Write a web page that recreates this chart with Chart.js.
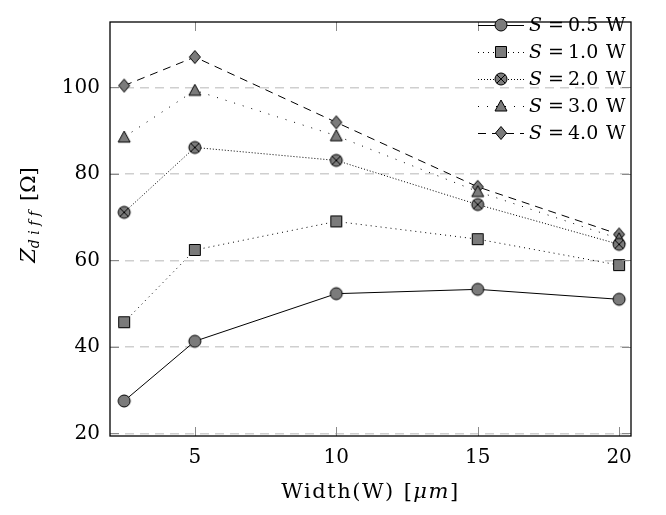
<!DOCTYPE html>
<html>
<head>
<meta charset="utf-8">
<script src="https://cdn.jsdelivr.net/npm/chart.js@4.4.0/dist/chart.umd.min.js"></script>
<style>
  html, body { margin: 0; padding: 0; background: #fff; }
</style>
</head>
<body>
<canvas id="myChart" width="666" height="515"></canvas>
<script>
// widths in um, impedance in ohm
const widths = [2.5, 5, 10, 15, 20];
const zS05 = [27.5, 41.3, 52.3, 53.3, 51.0];
const zS10 = [45.7, 62.4, 69.0, 64.9, 58.9];
const zS20 = [71.1, 86.1, 83.1, 72.9, 63.7];
const zS30 = [88.5, 99.3, 88.8, 75.9, 65.0];
const zS40 = [100.4, 107.0, 91.9, 77.0, 66.0];
const spacings = ['0.5', '1.0', '2.0', '3.0', '4.0'];
const xTicks = [5, 10, 15, 20];
const yTicks = [20, 40, 60, 80, 100];

const serif = '"DejaVu Serif", "Liberation Serif", serif';
const markFill = '#7b7b7b';

function makeMarker(kind) {
  var c = document.createElement('canvas');
  c.width = 16; c.height = 16;
  var g = c.getContext('2d');
  g.fillStyle = markFill;
  g.strokeStyle = '#000';
  g.lineWidth = 1;
  g.beginPath();
  if (kind == 'circle' || kind == 'otimes') {
    g.arc(8, 8, 6, 0, Math.PI * 2);
  } else if (kind == 'square') {
    g.rect(2.5, 2.5, 11, 11);
  } else if (kind == 'triangle') {
    g.moveTo(8, 2); g.lineTo(14, 13); g.lineTo(2, 13); g.closePath();
  } else if (kind == 'diamond') {
    g.moveTo(8, 1.5); g.lineTo(13.5, 8); g.lineTo(8, 14.5); g.lineTo(2.5, 8); g.closePath();
  }
  g.fill(); g.stroke();
  if (kind == 'otimes') {
    var d = 6 / Math.SQRT2;
    g.beginPath();
    g.moveTo(8 - d, 8 - d); g.lineTo(8 + d, 8 + d);
    g.moveTo(8 + d, 8 - d); g.lineTo(8 - d, 8 + d);
    g.stroke();
  }
  return c;
}

const markers = ['circle', 'square', 'otimes', 'triangle', 'diamond'].map(makeMarker);
const dashes = [[], [1, 4], [1, 2], [1, 8], [8, 6]];
const allZ = [zS05, zS10, zS20, zS30, zS40];

var datasets = [];
for (var i = 0; i < allZ.length; i++) {
  datasets.push({
    label: 'S = ' + spacings[i] + ' W',
    data: widths.map(function (w, k) { return {x: w, y: allZ[i][k]}; }),
    borderColor: '#000',
    borderWidth: 1,
    borderDash: dashes[i],
    pointStyle: markers[i],
    pointRadius: 7,
    fill: false,
    tension: 0
  });
}

// frame, tick marks, axis titles and legend
const decor = {
  id: 'decor',
  afterDraw(chart) {
    var ctx = chart.ctx;
    var a = chart.chartArea;
    var xs = chart.scales.x, ys = chart.scales.y;
    ctx.save();
    // tick marks on all sides
    ctx.strokeStyle = '#8a8a8a';
    ctx.lineWidth = 1;
    ctx.beginPath();
    xTicks.forEach(function (t) {
      var px = Math.round(xs.getPixelForValue(t)) + 0.5;
      ctx.moveTo(px, a.bottom); ctx.lineTo(px, a.bottom - 9);
      ctx.moveTo(px, a.top); ctx.lineTo(px, a.top + 9);
    });
    yTicks.forEach(function (t) {
      var py = Math.round(ys.getPixelForValue(t)) + 0.5;
      ctx.moveTo(a.left, py); ctx.lineTo(a.left + 9, py);
      ctx.moveTo(a.right, py); ctx.lineTo(a.right - 9, py);
    });
    ctx.stroke();
    // frame
    ctx.strokeStyle = '#000';
    ctx.lineWidth = 1.3;
    ctx.strokeRect(a.left, a.top, a.right - a.left, a.bottom - a.top);

    // x title: Width(W) [um]
    ctx.fillStyle = '#000';
    ctx.textBaseline = 'alphabetic';
    ctx.letterSpacing = '1.5px';
    var p1 = 'Width(W)', p2 = '[', p3 = '\u03bcm', p4 = ']';
    ctx.font = '21px ' + serif;
    var w1 = ctx.measureText(p1).width, w2 = ctx.measureText(p2).width, w4 = ctx.measureText(p4).width;
    ctx.font = 'italic 21px ' + serif;
    var w3 = ctx.measureText(p3).width;
    var gap = 9;
    var x0 = (a.left + a.right) / 2 - (w1 + gap + w2 + w3 + w4) / 2;
    var by = 498;
    ctx.font = '21px ' + serif;
    ctx.fillText(p1, x0, by);
    ctx.fillText(p2, x0 + w1 + gap, by);
    ctx.font = 'italic 21px ' + serif;
    ctx.fillText(p3, x0 + w1 + gap + w2, by);
    ctx.font = '21px ' + serif;
    ctx.fillText(p4, x0 + w1 + gap + w2 + w3, by);
    ctx.letterSpacing = '0px';

    // y title: Z_diff [Ohm]
    ctx.save();
    ctx.translate(35, 215);
    ctx.rotate(-Math.PI / 2);
    ctx.font = 'italic 21px ' + serif;
    var wz = ctx.measureText('Z').width;
    ctx.font = 'italic 14px ' + serif;
    var sub = 'd i f f';
    var wd = ctx.measureText(sub).width;
    ctx.font = '21px ' + serif;
    var wo = ctx.measureText('[\u03a9]').width;
    var tgap = 10;
    var sx = -(wz + wd + tgap + wo) / 2;
    ctx.font = 'italic 21px ' + serif;
    ctx.fillText('Z', sx, 0);
    ctx.font = 'italic 14px ' + serif;
    ctx.fillText(sub, sx + wz, 4);
    ctx.font = '21px ' + serif;
    ctx.fillText('[\u03a9]', sx + wz + wd + tgap, 0);
    ctx.restore();

    // legend
    for (var i = 0; i < chart.data.datasets.length; i++) {
      var ly = 25 + i * 27;
      ctx.strokeStyle = '#000';
      ctx.lineWidth = 1;
      ctx.setLineDash(dashes[i]);
      ctx.beginPath();
      ctx.moveTo(478, ly + 0.5); ctx.lineTo(524, ly + 0.5);
      ctx.stroke();
      ctx.setLineDash([]);
      ctx.drawImage(markers[i], 501 - 8, ly - 8);
      var tb = ly + 6;
      ctx.font = 'italic 19px ' + serif;
      ctx.fillText('S', 529, tb);
      ctx.font = '19px ' + serif;
      ctx.fillText('=', 548, tb);
      ctx.fillText(spacings[i], 568, tb);
      ctx.fillText('W', 606, tb);
    }
    ctx.restore();
  }
};

var ctx = document.getElementById('myChart').getContext('2d');
var myChart = new Chart(ctx, {
  type: 'line',
  data: { datasets: datasets },
  options: {
    responsive: false,
    devicePixelRatio: 1,
    animation: false,
    layout: { padding: { left: 0, right: 35, top: 3, bottom: 0 } },
    plugins: { legend: { display: false }, tooltip: { enabled: false } },
    scales: {
      x: {
        type: 'linear',
        min: 2,
        max: 20.42,
        afterBuildTicks: function (s) { s.ticks = xTicks.map(function (v) { return {value: v}; }); },
        afterFit: function (s) { s.height = 79; },
        grid: { display: false, drawTicks: false },
        border: { display: false },
        ticks: { color: '#000', padding: 10, font: { family: serif, size: 20 } }
      },
      y: {
        min: 19.4,
        max: 115.1,
        afterBuildTicks: function (s) { s.ticks = yTicks.map(function (v) { return {value: v}; }); },
        afterFit: function (s) { s.width = 110; },
        grid: { color: '#cfcfcf', lineWidth: 1.5, drawTicks: false },
        border: { display: false, dash: [9, 6] },
        ticks: { color: '#000', padding: 10, font: { family: serif, size: 20 } }
      }
    }
  },
  plugins: [decor]
});
</script>
</body>
</html>
